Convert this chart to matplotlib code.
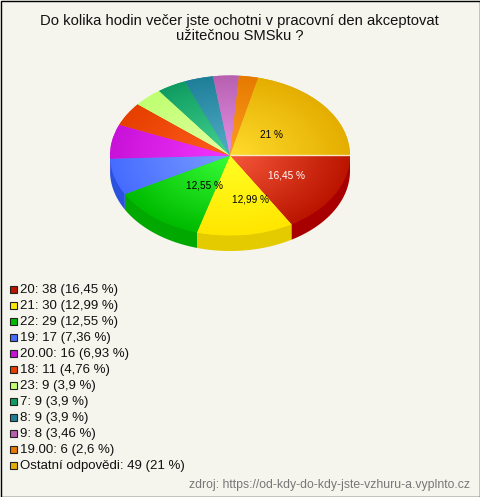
import numpy as np
import matplotlib
matplotlib.use("Agg")
import matplotlib.pyplot as plt
from matplotlib.colors import LinearSegmentedColormap
from matplotlib.patches import Rectangle

plt.rcParams['font.family'] = ['Liberation Sans', 'DejaVu Sans']

categories = ['20', '21', '22', '19', '20.00', '18', '23', '7', '8', '9', '19.00', 'Ostatní odpovědi']
counts = [38, 30, 29, 17, 16, 11, 9, 9, 9, 8, 6, 49]
percents = ['16,45', '12,99', '12,55', '7,36', '6,93', '4,76', '3,9', '3,9', '3,9', '3,46', '2,6', '21']
title = 'Do kolika hodin večer jste ochotni v pracovní den akceptovat\nužitečnou SMSku ?'
source = 'zdroj: https://od-kdy-do-kdy-jste-vzhuru-a.vyplnto.cz'

inner = ['#f6583a', '#ffff24', '#38ff38', '#7a9cff', '#f436ff', '#ff5e1e', '#e2ffa2', '#44d494', '#52aec8', '#e492e8', '#ff9c22', '#ffdc2e']
outer = ['#bb1500', '#ffe600', '#00bb00', '#466cff', '#c812d8', '#e63f00', '#bfff70', '#109c60', '#1f7f98', '#b860b0', '#e67a00', '#e4ae00']
side = ['#a80000', '#e3cb00', '#00a800', '#2a52de', '#a000b0', '#c03000', '#a0e050', '#008040', '#106070', '#904090', '#c06000', '#c09000']

W, H = 480, 497
BG = '#f5f5ed'
fig = plt.figure(figsize=(W / 100, H / 100), dpi=100, facecolor=BG)

def px_rect(x0, y0, x1, y1):
    return [x0 / W, 1 - y1 / H, (x1 - x0) / W, (y1 - y0) / H]

# pie axes: the top face of the pie fills the whole axes (an ellipse)
ax = fig.add_axes(px_rect(110, 75.5, 350, 235.5))
wedges, _ = ax.pie(counts, startangle=0, counterclock=False, radius=1, frame=False,
                   colors=outer, wedgeprops=dict(linewidth=0))
ax.set_aspect('auto')
ax.axis('off')

# extruded side of the front half, reaching slightly under the top face
depth = 15.5 / 80
edges = np.cumsum([0] + counts) / sum(counts) * 360
for a, b, c in zip(edges[:-1], edges[1:], side):
    if a >= 180:
        continue
    t = np.radians(np.linspace(a, min(b, 180), 60))
    x, y = np.cos(t), -np.sin(t)
    px = np.r_[x, x[-1], x[::-1] * 0.97, x[0]]
    py = np.r_[y - depth, y[-1], y[::-1] * 0.97, y[0]]
    ax.fill(px, py, color=c, lw=0, zorder=0.5, clip_on=False)

# radial shading of each slice
n = 400
yy, xx = np.mgrid[-1:1:n * 1j, -1:1:n * 1j]
rr = np.clip(np.hypot(xx, yy), 0, 1)
for w, ci, co in zip(wedges, inner, outer):
    cmap = LinearSegmentedColormap.from_list('s', [ci, co])
    im = ax.imshow(rr, extent=(-1, 1, -1, 1), cmap=cmap, vmin=0, vmax=1, origin='lower',
                   aspect='auto', zorder=2, interpolation='bilinear')
    im.set_clip_path(w)
ax.set_xlim(-1, 1)
ax.set_ylim(-1, 1)

# pale seam at the start of the first slice
ax.plot([0, 1], [0, 0], color='#fbe6c4', lw=1.0, zorder=3, solid_capstyle='butt')

# overlay in pixel coordinates
ov = fig.add_axes([0, 0, 1, 1], facecolor='none')
ov.set_xlim(0, W)
ov.set_ylim(H, 0)
ov.axis('off')

ov.text(239.5, 28.8, title, ha='center', va='center', fontsize=10.6, color='#111111', linespacing=1.12)

ov.text(271.5, 135, percents[11] + ' %', ha='center', va='center', fontsize=7.2, color='black')
ov.text(286, 176, percents[0] + ' %', ha='center', va='center', fontsize=7.2, color='white')
ov.text(251, 199.5, percents[1] + ' %', ha='center', va='center', fontsize=7.2, color='black')
ov.text(204, 185.5, percents[2] + ' %', ha='center', va='center', fontsize=7.2, color='black')

ov.text(470, 485, source, ha='right', va='center', fontsize=8.8, color='#777777')

for i, (cat, cnt, pct, c) in enumerate(zip(categories, counts, percents, outer)):
    y = 289.2 + 16.0 * i
    ov.add_patch(Rectangle((9.5, y - 3.5), 7, 7, facecolor=c, edgecolor='#222222', lw=0.8))
    ov.text(20, y + 0.6, f'{cat}: {cnt} ({pct} %)', ha='left', va='center', fontsize=9.5, color='#111111')

# figure frame
ov.add_patch(Rectangle((0.5, 0.5), W - 1, H - 1, fill=False, edgecolor='black', lw=1))

fig.savefig('out.png', dpi=100, facecolor=BG)
